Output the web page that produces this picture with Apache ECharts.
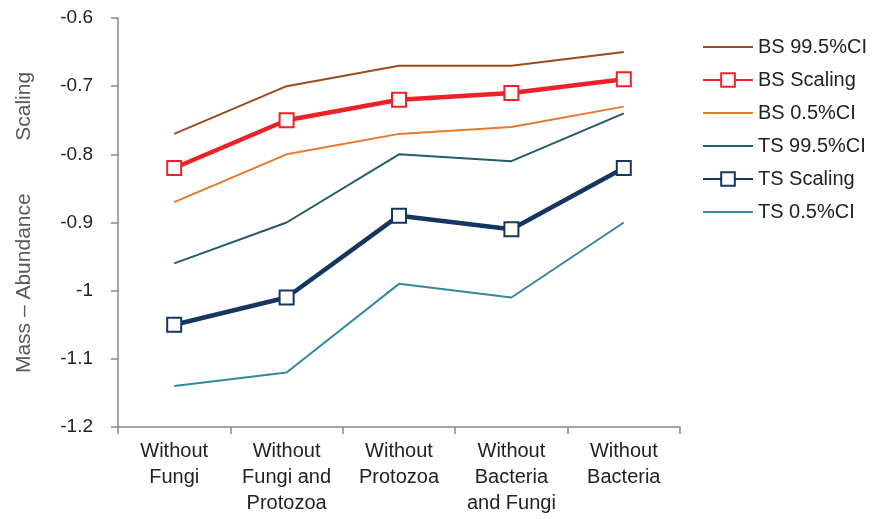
<!DOCTYPE html>
<html>
<head>
<meta charset="utf-8">
<script src="https://cdn.jsdelivr.net/npm/echarts@6/dist/echarts.min.js"></script>
<style>
  html, body { margin: 0; padding: 0; background: #fff; }
  #chart { width: 875px; height: 519px; }
</style>
</head>
<body>
<div id="chart"></div>
<script>
  // categories and series values
  const categories = ['Without\nFungi', 'Without\nFungi and\nProtozoa', 'Without\nProtozoa', 'Without\nBacteria\nand Fungi', 'Without\nBacteria']
  const bsHigh = [-0.77, -0.70, -0.67, -0.67, -0.65]
  const bsScaling = [-0.82, -0.75, -0.72, -0.71, -0.69]
  const bsLow = [-0.87, -0.80, -0.77, -0.76, -0.73]
  const tsHigh = [-0.96, -0.90, -0.80, -0.81, -0.74]
  const tsScaling = [-1.05, -1.01, -0.89, -0.91, -0.82]
  const tsLow = [-1.14, -1.12, -0.99, -1.01, -0.90]
  const legendNames = ['BS 99.5%CI', 'BS Scaling', 'BS 0.5%CI', 'TS 99.5%CI', 'TS Scaling', 'TS 0.5%CI']

  const font = 'Liberation Sans'
  const axisGray = '#868686'

  const thinLine = (name, data, color) => ({
    name: name,
    type: 'line',
    data: data,
    symbol: 'none',
    lineStyle: { color: color, width: 2 },
    itemStyle: { color: color }
  })

  const boxLine = (name, data, color) => ({
    name: name,
    type: 'line',
    data: data,
    symbol: 'rect',
    symbolSize: 14,
    lineStyle: { color: color, width: 4.5 },
    itemStyle: { color: '#fff', borderColor: color, borderWidth: 2 }
  })

  // no dot in the legend for the plain CI lines
  const legendData = legendNames.map(n =>
    n.indexOf('Scaling') >= 0 ? { name: n } : { name: n, itemStyle: { opacity: 0 } }
  )

  const chart = echarts.init(document.getElementById('chart'))
  const option = {
    animation: false,
    grid: { left: 118, right: 195, top: 18, bottom: 92, outerBoundsMode: 'none' },
    legend: {
      orient: 'vertical',
      left: 697,
      top: 32,
      itemWidth: 50,
      itemHeight: 17,
      itemGap: 13,
      textStyle: { fontFamily: font, fontSize: 20, color: '#222' },
      data: legendData
    },
    xAxis: {
      type: 'category',
      data: categories,
      boundaryGap: true,
      axisLine: { lineStyle: { color: axisGray, width: 1.5 } },
      axisTick: { show: true, length: 7, lineStyle: { color: axisGray, width: 1.5 } },
      axisLabel: {
        interval: 0,
        margin: 11,
        fontFamily: font,
        fontSize: 20,
        lineHeight: 26,
        color: '#222'
      }
    },
    yAxis: {
      type: 'value',
      min: -1.2,
      max: -0.6,
      interval: 0.1,
      name: 'Mass – Abundance         Scaling',
      nameLocation: 'middle',
      nameGap: 83,
      nameTextStyle: { fontFamily: font, fontSize: 21, color: '#595959' },
      axisLine: { show: true, lineStyle: { color: axisGray, width: 1.5 } },
      axisTick: { show: true, length: 7, lineStyle: { color: axisGray, width: 1.5 } },
      splitLine: { show: false },
      axisLabel: {
        margin: 25,
        fontFamily: font,
        fontSize: 19,
        color: '#222',
        formatter: v => String(Math.round(v * 10) / 10)
      }
    },
    series: [
      thinLine('BS 99.5%CI', bsHigh, '#9B4A1E'),
      boxLine('BS Scaling', bsScaling, '#EE2128'),
      thinLine('BS 0.5%CI', bsLow, '#E8782A'),
      thinLine('TS 99.5%CI', tsHigh, '#245B68'),
      boxLine('TS Scaling', tsScaling, '#15375F'),
      thinLine('TS 0.5%CI', tsLow, '#318A9E')
    ]
  }
  option && chart.setOption(option)
</script>
</body>
</html>
